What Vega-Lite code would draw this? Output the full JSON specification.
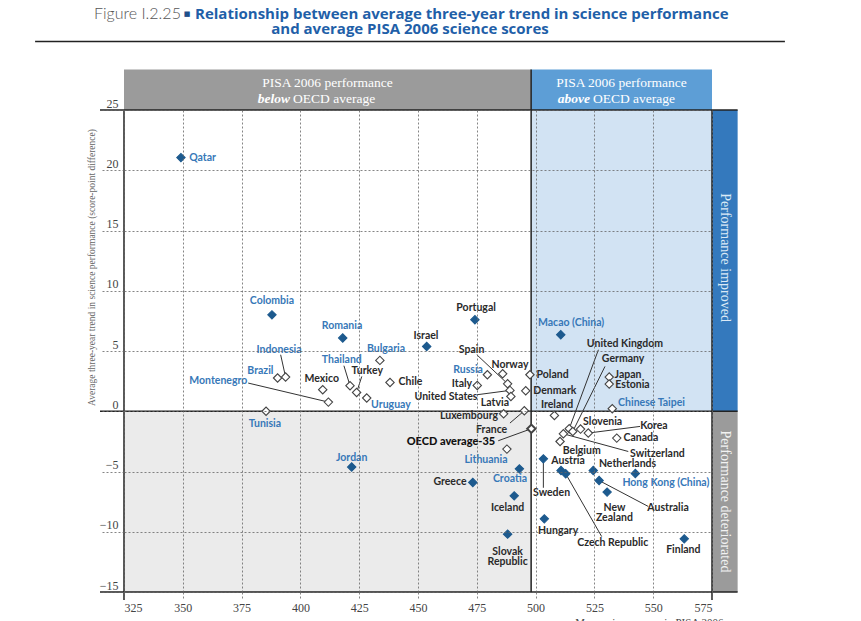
{
  "$schema": "https://vega.github.io/schema/vega-lite/v6.json",
  "width": 588,
  "height": 482,
  "autosize": {"type": "none"},
  "padding": {"left": 124, "top": 110, "right": 149, "bottom": 29},
  "background": "white",
  "config": {"view": {"stroke": null}},
  "datasets": {
    "regions": [
      {"kind": "lb", "x1": 498.1, "x2": 575, "y1": 0, "y2": 25},
      {"kind": "lg", "x1": 325, "x2": 498.1, "y1": -15, "y2": 0},
      {"kind": "hb", "x1": 325, "x2": 498.1, "y1": 25, "y2": 28.36},
      {"kind": "ha", "x1": 498.1, "x2": 575, "y1": 25, "y2": 28.36},
      {"kind": "bi", "x1": 575, "x2": 585.9, "y1": 0, "y2": 25},
      {"kind": "bd", "x1": 575, "x2": 585.9, "y1": -15, "y2": 0}
    ],
    "frame": [
      {"x1": 314.8, "x2": 585.9, "y1": 25, "y2": 25},
      {"x1": 314.8, "x2": 585.9, "y1": -15, "y2": -15},
      {"x1": 314.8, "x2": 585.9, "y1": 0, "y2": 0},
      {"x1": 325, "x2": 325, "y1": -15.66, "y2": 25},
      {"x1": 498.1, "x2": 498.1, "y1": -15, "y2": 28.36},
      {"x1": 575, "x2": 575, "y1": -15.66, "y2": 25},
      {"x1": 287.2, "x2": 606.0, "y1": 30.69, "y2": 30.69}
    ],
    "countries": [
      {"name": "Qatar", "score": 349.2, "trend": 21.05, "sig": true, "grp": "P", "lx": 358.4, "ly": 21.05},
      {"name": "Colombia", "score": 387.9, "trend": 8.0, "sig": true, "grp": "P", "lx": 387.9, "ly": 9.13},
      {"name": "Romania", "score": 418.0, "trend": 6.08, "sig": true, "grp": "P", "lx": 417.7, "ly": 7.1},
      {"name": "Israel", "score": 453.7, "trend": 5.38, "sig": true, "grp": "O", "lx": 453.4, "ly": 6.27},
      {"name": "Portugal", "score": 474.2, "trend": 7.6, "sig": true, "grp": "O", "lx": 474.7, "ly": 8.6},
      {"name": "Macao (China)", "score": 510.7, "trend": 6.35, "sig": true, "grp": "P", "lx": 515.1, "ly": 7.35},
      {"name": "Indonesia", "score": 393.7, "trend": 2.84, "sig": false, "grp": "P", "lx": 390.9, "ly": 5.1, "ex": 391.6, "ey": 4.69},
      {"name": "Brazil", "score": 390.3, "trend": 2.76, "sig": false, "grp": "P", "lx": 383.0, "ly": 3.3},
      {"name": "Tunisia", "score": 385.4, "trend": 0.0, "sig": false, "grp": "P", "lx": 384.9, "ly": -1.04},
      {"name": "Montenegro", "score": 411.9, "trend": 0.76, "sig": false, "grp": "P", "lx": 365.1, "ly": 2.53, "ex": 377.8, "ey": 2.34},
      {"name": "Mexico", "score": 409.5, "trend": 1.79, "sig": false, "grp": "O", "lx": 409.1, "ly": 2.67},
      {"name": "Thailand", "score": 421.1, "trend": 2.12, "sig": false, "grp": "P", "lx": 417.6, "ly": 4.28, "ex": 418.5, "ey": 3.78},
      {"name": "Turkey", "score": 423.9, "trend": 1.56, "sig": false, "grp": "O", "lx": 428.4, "ly": 3.3, "ex": 426.1, "ey": 2.89},
      {"name": "Uruguay", "score": 428.2, "trend": 1.1, "sig": false, "grp": "P", "lx": 438.5, "ly": 0.54},
      {"name": "Bulgaria", "score": 433.8, "trend": 4.22, "sig": false, "grp": "P", "lx": 436.4, "ly": 5.19},
      {"name": "Chile", "score": 438.1, "trend": 2.39, "sig": false, "grp": "O", "lx": 446.8, "ly": 2.39},
      {"name": "Jordan", "score": 421.8, "trend": -4.63, "sig": true, "grp": "P", "lx": 421.8, "ly": -3.84},
      {"name": "Russia", "score": 479.5, "trend": 3.03, "sig": false, "grp": "P", "lx": 471.3, "ly": 3.45},
      {"name": "Norway", "score": 486.0, "trend": 3.11, "sig": false, "grp": "O", "lx": 489.1, "ly": 3.86},
      {"name": "Italy", "score": 475.2, "trend": 2.14, "sig": false, "grp": "O", "lx": 468.7, "ly": 2.28},
      {"name": "Spain", "score": 488.1, "trend": 2.28, "sig": false, "grp": "O", "lx": 472.8, "ly": 5.05, "ex": 475.0, "ey": 4.69},
      {"name": "United States", "score": 489.1, "trend": 1.73, "sig": false, "grp": "O", "lx": 461.9, "ly": 1.18, "ex": 475.1, "ey": 1.37},
      {"name": "Latvia", "score": 489.5, "trend": 1.23, "sig": false, "grp": "O", "lx": 482.7, "ly": 0.7},
      {"name": "Poland", "score": 497.6, "trend": 3.03, "sig": false, "grp": "O", "lx": 507.2, "ly": 3.03},
      {"name": "Denmark", "score": 495.8, "trend": 1.7, "sig": false, "grp": "O", "lx": 508.2, "ly": 1.7},
      {"name": "Luxembourg", "score": 486.4, "trend": -0.21, "sig": false, "grp": "O", "lx": 471.7, "ly": -0.37},
      {"name": "France", "score": 495.2, "trend": 0.04, "sig": false, "grp": "O", "lx": 481.3, "ly": -1.54, "ex": 489.1, "ey": -0.98},
      {"name": "OECD average-35", "score": 498.2, "trend": -1.45, "sig": false, "grp": "A", "lx": 464.0, "ly": -2.56, "ex": 484.1, "ey": -2.45},
      {"name": "Lithuania", "score": 487.8, "trend": -3.14, "sig": false, "grp": "P", "lx": 478.9, "ly": -4.03},
      {"name": "Ireland", "score": 508.0, "trend": -0.35, "sig": false, "grp": "O", "lx": 509.1, "ly": 0.48},
      {"name": "United Kingdom", "score": 514.3, "trend": -1.45, "sig": false, "grp": "O", "lx": 538.0, "ly": 5.6, "ex": 526.7, "ey": 5.1},
      {"name": "Germany", "score": 515.8, "trend": -1.68, "sig": false, "grp": "O", "lx": 537.2, "ly": 4.36, "ex": 529.5, "ey": 3.72},
      {"name": "Switzerland", "score": 511.8, "trend": -1.87, "sig": false, "grp": "O", "lx": 551.8, "ly": -3.53, "ex": 539.4, "ey": -3.34},
      {"name": "Belgium", "score": 510.4, "trend": -2.51, "sig": false, "grp": "O", "lx": 519.6, "ly": -3.26},
      {"name": "Slovenia", "score": 519.1, "trend": -1.48, "sig": false, "grp": "O", "lx": 528.5, "ly": -0.9},
      {"name": "Korea", "score": 522.4, "trend": -1.81, "sig": false, "grp": "O", "lx": 550.3, "ly": -1.2, "ex": 544.4, "ey": -1.26},
      {"name": "Canada", "score": 534.5, "trend": -2.23, "sig": false, "grp": "O", "lx": 544.8, "ly": -2.23},
      {"name": "Japan", "score": 531.3, "trend": 2.84, "sig": false, "grp": "O", "lx": 539.3, "ly": 3.03},
      {"name": "Estonia", "score": 531.3, "trend": 2.26, "sig": false, "grp": "O", "lx": 541.2, "ly": 2.2},
      {"name": "Chinese Taipei", "score": 532.6, "trend": 0.21, "sig": false, "grp": "P", "lx": 549.3, "ly": 0.7},
      {"name": "Sweden", "score": 503.3, "trend": -3.95, "sig": true, "grp": "O", "lx": 506.8, "ly": -6.79, "ex": 503.3, "ey": -6.35},
      {"name": "Austria", "score": 510.8, "trend": -4.92, "sig": true, "grp": "O", "lx": 513.8, "ly": -4.17},
      {"name": "Czech Republic", "score": 512.8, "trend": -5.19, "sig": true, "grp": "O", "lx": 532.8, "ly": -10.95, "ex": 528.1, "ey": -10.4},
      {"name": "Netherlands", "score": 524.5, "trend": -4.92, "sig": true, "grp": "O", "lx": 539.1, "ly": -4.36},
      {"name": "Australia", "score": 527.0, "trend": -5.75, "sig": true, "grp": "O", "lx": 556.3, "ly": -7.99, "ex": 547.9, "ey": -7.9},
      {"name": "New\nZealand", "score": 530.4, "trend": -6.71, "sig": true, "grp": "O", "lx": 533.5, "ly": -8.01},
      {"name": "Hong Kong (China)", "score": 542.4, "trend": -5.17, "sig": true, "grp": "P", "lx": 555.4, "ly": -5.96},
      {"name": "Hungary", "score": 503.7, "trend": -8.93, "sig": true, "grp": "O", "lx": 509.6, "ly": -9.93},
      {"name": "Finland", "score": 563.2, "trend": -10.59, "sig": true, "grp": "O", "lx": 562.8, "ly": -11.5},
      {"name": "Greece", "score": 473.3, "trend": -5.91, "sig": true, "grp": "O", "lx": 463.6, "ly": -5.88},
      {"name": "Croatia", "score": 493.1, "trend": -4.78, "sig": true, "grp": "P", "lx": 489.1, "ly": -5.63},
      {"name": "Iceland", "score": 490.9, "trend": -7.02, "sig": true, "grp": "O", "lx": 488.1, "ly": -8.04},
      {"name": "Slovak\nRepublic", "score": 488.1, "trend": -10.2, "sig": true, "grp": "O", "lx": 488.1, "ly": -11.67}
    ],
    "notes": [
      {"kind": "hdr", "text": "PISA 2006 performance", "x": 411.5, "y": 27.2},
      {"kind": "hdr", "text": "PISA 2006 performance", "x": 536.5, "y": 27.2},
      {"kind": "hdrR", "text": "below", "x": 395.6, "y": 25.95},
      {"kind": "hdrL", "text": "OECD average", "x": 396.9, "y": 25.95},
      {"kind": "hdrR", "text": "above", "x": 523.1, "y": 25.95},
      {"kind": "hdrL", "text": "OECD average", "x": 524.4, "y": 25.95},
      {"kind": "side", "text": "Performance improved", "x": 580.5, "y": 12.75},
      {"kind": "side2", "text": "Performance deteriorated", "x": 580.5, "y": -7.49},
      {"kind": "fig", "text": "Figure I.2.25", "x": 349.2, "y": 33.0},
      {"kind": "sq", "text": "■", "x": 351.8, "y": 33.0},
      {"kind": "t1", "text": "Relationship between average three-year trend in science performance", "x": 355.2, "y": 33.0},
      {"kind": "t2", "text": "and average PISA 2006 science scores", "x": 446.6, "y": 31.69}
    ]
  },
  "layer": [
    {
      "data": {"name": "regions"},
      "mark": {"type": "rect"},
      "encoding": {
        "x": {"field": "x1", "type": "quantitative",
          "scale": {"domain": [325, 575], "nice": false, "zero": false},
          "axis": {"values": [325, 350, 375, 400, 425, 450, 475, 500, 525, 550, 575],
            "grid": true, "gridDash": [2, 2], "gridColor": "#666", "gridWidth": 0.8,
            "ticks": true, "tickSize": 8, "tickDash": [2, 2], "tickColor": "#666", "tickWidth": 0.8,
            "domain": false, "labelFont": "Liberation Serif", "labelFontSize": 12, "labelColor": "#444",
            "labelPadding": 2, "zindex": 1,
            "title": "Mean science score in PISA 2006", "titleFont": "Liberation Serif", "titleFontSize": 11,
            "titleFontWeight": "normal", "titleColor": "#444", "titleX": 599, "titleY": 24,
            "titleAlign": "right", "titleBaseline": "top"}},
        "x2": {"field": "x2"},
        "y": {"field": "y1", "type": "quantitative",
          "scale": {"domain": [-15, 25], "nice": false, "zero": false},
          "axis": {"values": [-15, -10, -5, 0, 5, 10, 15, 20, 25],
            "grid": true, "gridDash": [2, 2], "gridColor": "#666", "gridWidth": 0.8,
            "ticks": true, "tickSize": 24, "tickDash": [2, 2], "tickColor": "#666", "tickWidth": 0.8,
            "domain": false, "labelFont": "Liberation Serif", "labelFontSize": 12, "labelColor": "#444",
            "labelAlign": "right", "labelBaseline": "bottom", "labelPadding": -18, "zindex": 1,
            "title": "Average three-year trend in  science performance (score-point difference)",
            "titleFont": "Liberation Serif", "titleFontSize": 9.5, "titleFontWeight": "normal", "titleColor": "#666",
            "titleX": -33, "titleY": 157, "titleAngle": -90, "titleAlign": "center", "titleBaseline": "middle"}},
        "y2": {"field": "y2"},
        "color": {"field": "kind", "type": "nominal", "legend": null,
          "scale": {"domain": ["lb", "lg", "hb", "ha", "bi", "bd"],
            "range": ["#d2e3f3", "#ebebeb", "#9b9b9b", "#5d9ed6", "#3479bd", "#9b9b9b"]}}
      }
    },
    {
      "data": {"name": "frame"},
      "mark": {"type": "rule", "color": "#222", "strokeWidth": 1.5},
      "encoding": {
        "x": {"field": "x1", "type": "quantitative"},
        "x2": {"field": "x2"},
        "y": {"field": "y1", "type": "quantitative"},
        "y2": {"field": "y2"}
      }
    },
    {
      "data": {"name": "countries"},
      "transform": [{"filter": "isValid(datum.ex)"}],
      "mark": {"type": "rule", "color": "#333", "strokeWidth": 1},
      "encoding": {
        "x": {"field": "score", "type": "quantitative"},
        "x2": {"field": "ex"},
        "y": {"field": "trend", "type": "quantitative"},
        "y2": {"field": "ey"}
      }
    },
    {
      "data": {"name": "countries"},
      "mark": {"type": "point", "shape": "diamond", "filled": true, "size": 70, "opacity": 1},
      "encoding": {
        "x": {"field": "score", "type": "quantitative"},
        "y": {"field": "trend", "type": "quantitative"},
        "fill": {"condition": {"test": "datum.sig", "value": "#1d5a8e"}, "value": "white"},
        "stroke": {"condition": {"test": "datum.sig", "value": "#1d5a8e"}, "value": "#444"},
        "strokeWidth": {"condition": {"test": "datum.grp === 'A'", "value": 2}, "value": 1.1}
      }
    },
    {
      "data": {"name": "countries"},
      "transform": [{"filter": "datum.grp !== 'A'"}],
      "mark": {"type": "text", "font": "Lato", "fontWeight": "bold", "fontSize": 10.5, "align": "center", "baseline": "middle", "lineBreak": "\n", "lineHeight": 10},
      "encoding": {
        "x": {"field": "lx", "type": "quantitative"},
        "y": {"field": "ly", "type": "quantitative"},
        "text": {"field": "name"},
        "color": {"condition": {"test": "datum.grp === 'P'", "value": "#3778b8"}, "value": "#2a2a2a"}
      }
    },
    {
      "data": {"name": "countries"},
      "transform": [{"filter": "datum.grp === 'A'"}],
      "mark": {"type": "text", "font": "Lato", "fontWeight": 900, "fontSize": 11, "align": "center", "baseline": "middle", "color": "#111"},
      "encoding": {
        "x": {"field": "lx", "type": "quantitative"},
        "y": {"field": "ly", "type": "quantitative"},
        "text": {"field": "name"}
      }
    },
    {
      "data": {"name": "notes"},
      "transform": [{"filter": "datum.kind === 'hdr'"}],
      "mark": {"type": "text", "font": "Liberation Serif", "fontSize": 13.5, "align": "center", "baseline": "middle", "color": "white"},
      "encoding": {
        "x": {"field": "x", "type": "quantitative"},
        "y": {"field": "y", "type": "quantitative"},
        "text": {"field": "text"}
      }
    },
    {
      "data": {"name": "notes"},
      "transform": [{"filter": "datum.kind === 'hdrR'"}],
      "mark": {"type": "text", "font": "Liberation Serif", "fontSize": 13.5, "fontWeight": "bold", "fontStyle": "italic", "align": "right", "baseline": "middle", "color": "white"},
      "encoding": {
        "x": {"field": "x", "type": "quantitative"},
        "y": {"field": "y", "type": "quantitative"},
        "text": {"field": "text"}
      }
    },
    {
      "data": {"name": "notes"},
      "transform": [{"filter": "datum.kind === 'hdrL'"}],
      "mark": {"type": "text", "font": "Liberation Serif", "fontSize": 13.5, "align": "left", "baseline": "middle", "color": "white"},
      "encoding": {
        "x": {"field": "x", "type": "quantitative"},
        "y": {"field": "y", "type": "quantitative"},
        "text": {"field": "text"}
      }
    },
    {
      "data": {"name": "notes"},
      "transform": [{"filter": "datum.kind === 'side' || datum.kind === 'side2'"}],
      "mark": {"type": "text", "font": "Liberation Serif", "fontSize": 14, "align": "center", "baseline": "middle", "angle": 90},
      "encoding": {
        "x": {"field": "x", "type": "quantitative"},
        "y": {"field": "y", "type": "quantitative"},
        "text": {"field": "text"},
        "color": {"condition": {"test": "datum.kind === 'side'", "value": "#dbe9f6"}, "value": "#f2f2f2"}
      }
    },
    {
      "data": {"name": "notes"},
      "transform": [{"filter": "datum.kind === 'fig'"}],
      "mark": {"type": "text", "font": "Lato", "fontSize": 16, "fontWeight": 300, "align": "right", "baseline": "middle", "color": "#555"},
      "encoding": {
        "x": {"field": "x", "type": "quantitative"},
        "y": {"field": "y", "type": "quantitative"},
        "text": {"field": "text"}
      }
    },
    {
      "data": {"name": "notes"},
      "transform": [{"filter": "datum.kind === 'sq'"}],
      "mark": {"type": "text", "font": "DejaVu Sans", "fontSize": 7, "align": "center", "baseline": "middle", "color": "#1f4f8a"},
      "encoding": {
        "x": {"field": "x", "type": "quantitative"},
        "y": {"field": "y", "type": "quantitative"},
        "text": {"field": "text"}
      }
    },
    {
      "data": {"name": "notes"},
      "transform": [{"filter": "datum.kind === 't1'"}],
      "mark": {"type": "text", "font": "Open Sans", "fontSize": 15, "fontWeight": "bold", "align": "left", "baseline": "middle", "color": "#1f5fa8"},
      "encoding": {
        "x": {"field": "x", "type": "quantitative"},
        "y": {"field": "y", "type": "quantitative"},
        "text": {"field": "text"}
      }
    },
    {
      "data": {"name": "notes"},
      "transform": [{"filter": "datum.kind === 't2'"}],
      "mark": {"type": "text", "font": "Open Sans", "fontSize": 15, "fontWeight": "bold", "align": "center", "baseline": "middle", "color": "#1f5fa8"},
      "encoding": {
        "x": {"field": "x", "type": "quantitative"},
        "y": {"field": "y", "type": "quantitative"},
        "text": {"field": "text"}
      }
    }
  ]
}
